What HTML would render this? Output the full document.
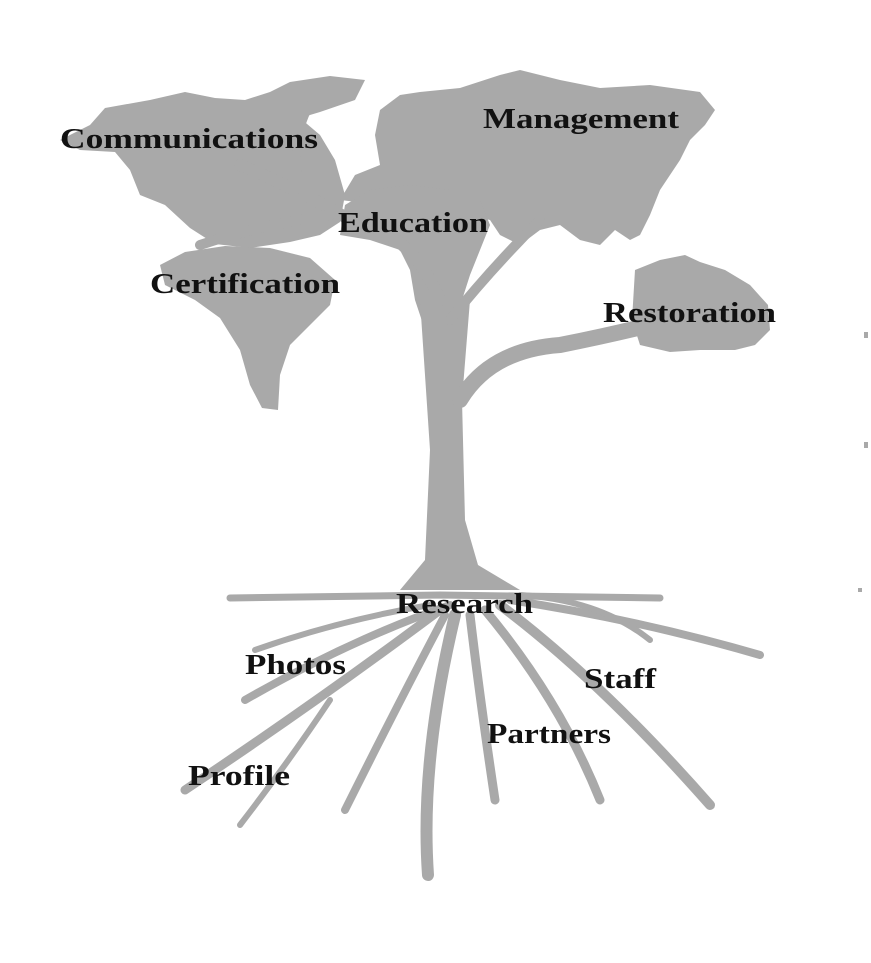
<!DOCTYPE html>
<html><head><style>
html,body{margin:0;padding:0;background:#fff;}
svg{display:block;}
text{font-family:"Liberation Serif",serif;font-weight:bold;font-size:28px;fill:#111;}
</style></head><body>
<svg width="871" height="963" viewBox="0 0 871 963" xmlns="http://www.w3.org/2000/svg">
<g fill="#a9a9a9" stroke="none">
<polygon points="60,140 90,125 105,108 150,100 185,92 215,98 245,100 270,92 290,82 330,76 365,80 355,100 320,112 300,118 320,135 335,160 345,195 340,222 320,235 290,242 250,248 215,244 190,228 165,205 140,195 130,170 115,152 80,150"/>
<polygon points="185,252 225,246 270,248 310,258 335,280 330,305 310,325 290,345 280,375 278,410 262,408 250,385 240,350 220,318 195,300 165,285 160,265"/>
<polygon points="340,200 355,175 380,165 375,135 380,110 400,95 420,92 460,88 500,75 520,70 560,80 600,88 650,85 700,92 715,110 705,125 690,140 680,160 670,175 660,190 650,215 640,235 630,240 615,230 600,245 580,240 560,225 540,230 520,245 500,235 490,220 470,215"/>
<polygon points="345,205 370,190 410,185 450,190 480,200 490,225 480,250 470,275 462,300 455,330 440,340 425,330 415,300 410,270 400,250 370,240 340,235"/>
<polygon points="635,270 660,260 685,255 700,262 725,270 750,285 768,305 770,330 755,345 735,350 700,350 670,352 640,345 632,320"/>
<path d="M420,300 L470,300 L462,400 L465,520 L478,565 L520,590 L400,590 L425,560 L430,450 Z"/>
<rect x="864" y="332" width="4" height="6"/>
<rect x="864" y="442" width="4" height="6"/>
<rect x="858" y="588" width="4" height="4"/>
</g>
<g stroke="#a9a9a9" fill="none" stroke-linecap="round">
<path d="M460,400 Q490,350 560,345 Q610,335 650,325" stroke-width="16"/>
<path d="M450,320 Q490,270 540,220" stroke-width="10"/>
<path d="M440,300 Q410,230 350,220 Q300,190 240,165" stroke-width="12"/>
<path d="M330,215 Q260,225 200,245" stroke-width="10"/>
<path d="M300,190 Q290,140 310,105" stroke-width="8"/>
<path d="M230,598 L440,595 L660,598" stroke-width="7"/>
<path d="M450,605 Q350,640 245,700" stroke-width="8"/>
<path d="M440,610 Q320,700 185,790" stroke-width="9"/>
<path d="M330,700 Q290,760 240,825" stroke-width="6"/>
<path d="M445,615 Q400,700 345,810" stroke-width="8"/>
<path d="M455,615 Q420,760 428,875" stroke-width="12"/>
<path d="M470,615 Q480,700 495,800" stroke-width="9"/>
<path d="M485,610 Q560,700 600,800" stroke-width="9"/>
<path d="M500,605 Q600,680 710,805" stroke-width="10"/>
<path d="M510,600 Q640,620 760,655" stroke-width="8"/>
<path d="M520,595 Q600,600 650,640" stroke-width="6"/>
<path d="M430,605 Q340,620 255,650" stroke-width="6"/>
</g>
<text x="60" y="148" textLength="258" lengthAdjust="spacingAndGlyphs">Communications</text>
<text x="483" y="128" textLength="196" lengthAdjust="spacingAndGlyphs">Management</text>
<text x="338" y="232" textLength="150" lengthAdjust="spacingAndGlyphs">Education</text>
<text x="150" y="293" textLength="190" lengthAdjust="spacingAndGlyphs">Certification</text>
<text x="603" y="322" textLength="173" lengthAdjust="spacingAndGlyphs">Restoration</text>
<text x="396" y="613" textLength="137" lengthAdjust="spacingAndGlyphs">Research</text>
<text x="245" y="674" textLength="101" lengthAdjust="spacingAndGlyphs">Photos</text>
<text x="584" y="688" textLength="72" lengthAdjust="spacingAndGlyphs">Staff</text>
<text x="487" y="743" textLength="124" lengthAdjust="spacingAndGlyphs">Partners</text>
<text x="188" y="785" textLength="102" lengthAdjust="spacingAndGlyphs">Profile</text>
</svg>
</body></html>
